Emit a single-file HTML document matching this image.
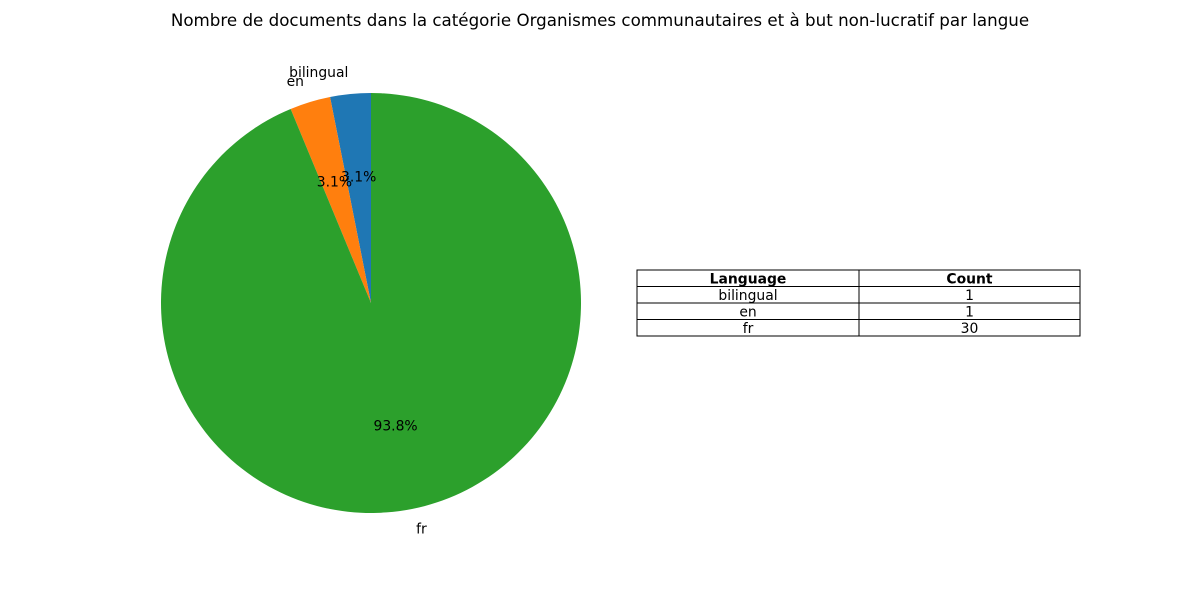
<!DOCTYPE html>
<html><head><meta charset="utf-8">
<style>
body{margin:0;background:#fff;width:1200px;height:600px;overflow:hidden;font-family:"Liberation Sans","DejaVu Sans",sans-serif;}
svg text{font-family:"DejaVu Sans","Liberation Sans",sans-serif;}
</style></head>
<body>
<svg id="chart" width="1200" height="600" xmlns="http://www.w3.org/2000/svg">
<text x="600" y="26" text-anchor="middle" font-size="16.7">Nombre de documents dans la catégorie Organismes communautaires et à but non-lucratif par langue</text>
<g id="slices"></g>
<g id="labels"></g>
<g id="table"></g>
</svg>
<script>
const categories = ["bilingual", "en", "fr"];
const counts = [1, 1, 30];
const pctLabels = ["3.1%", "3.1%", "93.8%"];
const colors = ["#1f77b4", "#ff7f0e", "#2ca02c"];
const NS = "http://www.w3.org/2000/svg";
const cx = 371, cy = 303, R = 210;
const FS = '13.9';
const total = counts.reduce((a, b) => a + b, 0);
const slices = document.getElementById('slices');
const labels = document.getElementById('labels');
function pt(deg, r) { const a = deg * Math.PI / 180; return [cx + r * Math.cos(a), cy - r * Math.sin(a)]; }
let ang = 90;
counts.forEach((v, i) => {
  const sweep = v / total * 360;
  const a0 = ang, a1 = ang + sweep;
  const p0 = pt(a0, R), p1 = pt(a1, R);
  const large = sweep > 180 ? 1 : 0;
  const path = document.createElementNS(NS, 'path');
  path.setAttribute('d', `M${cx},${cy} L${p0[0]},${p0[1]} A${R},${R} 0 ${large} 0 ${p1[0]},${p1[1]} Z`);
  path.setAttribute('fill', colors[i]);
  
  
  slices.appendChild(path);
  const mid = (a0 + a1) / 2;
  const lp = pt(mid, R * 1.1);
  const t = document.createElementNS(NS, 'text');
  t.setAttribute('x', lp[0]); t.setAttribute('y', lp[1]);
  t.setAttribute('font-size', FS);
  t.setAttribute('dominant-baseline', 'middle');
  t.setAttribute('text-anchor', Math.cos(mid * Math.PI / 180) < 0 ? 'end' : 'start');
  t.textContent = categories[i];
  
  
  labels.appendChild(t);
  const pp = pt(mid, R * 0.6);
  const t2 = document.createElementNS(NS, 'text');
  t2.setAttribute('x', pp[0]); t2.setAttribute('y', pp[1]);
  t2.setAttribute('font-size', FS);
  t2.setAttribute('dominant-baseline', 'middle');
  t2.setAttribute('text-anchor', 'middle');
  t2.textContent = pctLabels[i];
  
  
  labels.appendChild(t2);
  ang = a1;
});
const tbl = document.getElementById('table');
const rows = [["Language", "Count"]].concat(categories.map((c, i) => [c, String(counts[i])]));
const x0 = 637, xm = 859, x1 = 1080, y0 = 270, rh = 16.5;
rows.forEach((r, ri) => {
  const y = y0 + ri * rh;
  [[x0, xm], [xm, x1]].forEach((col, ci) => {
    const rect = document.createElementNS(NS, 'rect');
    rect.setAttribute('x', col[0]); rect.setAttribute('y', y);
    rect.setAttribute('width', col[1] - col[0]); rect.setAttribute('height', rh);
    rect.setAttribute('fill', '#fff'); rect.setAttribute('stroke', '#000'); rect.setAttribute('stroke-width', '1');
    
    
    tbl.appendChild(rect);
    const t = document.createElementNS(NS, 'text');
    t.setAttribute('x', (col[0] + col[1]) / 2); t.setAttribute('y', y + rh / 2 + 1);
    t.setAttribute('text-anchor', 'middle'); t.setAttribute('dominant-baseline', 'middle');
    t.setAttribute('font-size', FS);
    if (ri === 0) t.setAttribute('font-weight', 'bold');
    t.textContent = r[ci];
    
    
    tbl.appendChild(t);
  });
});
</script>
</body></html>
